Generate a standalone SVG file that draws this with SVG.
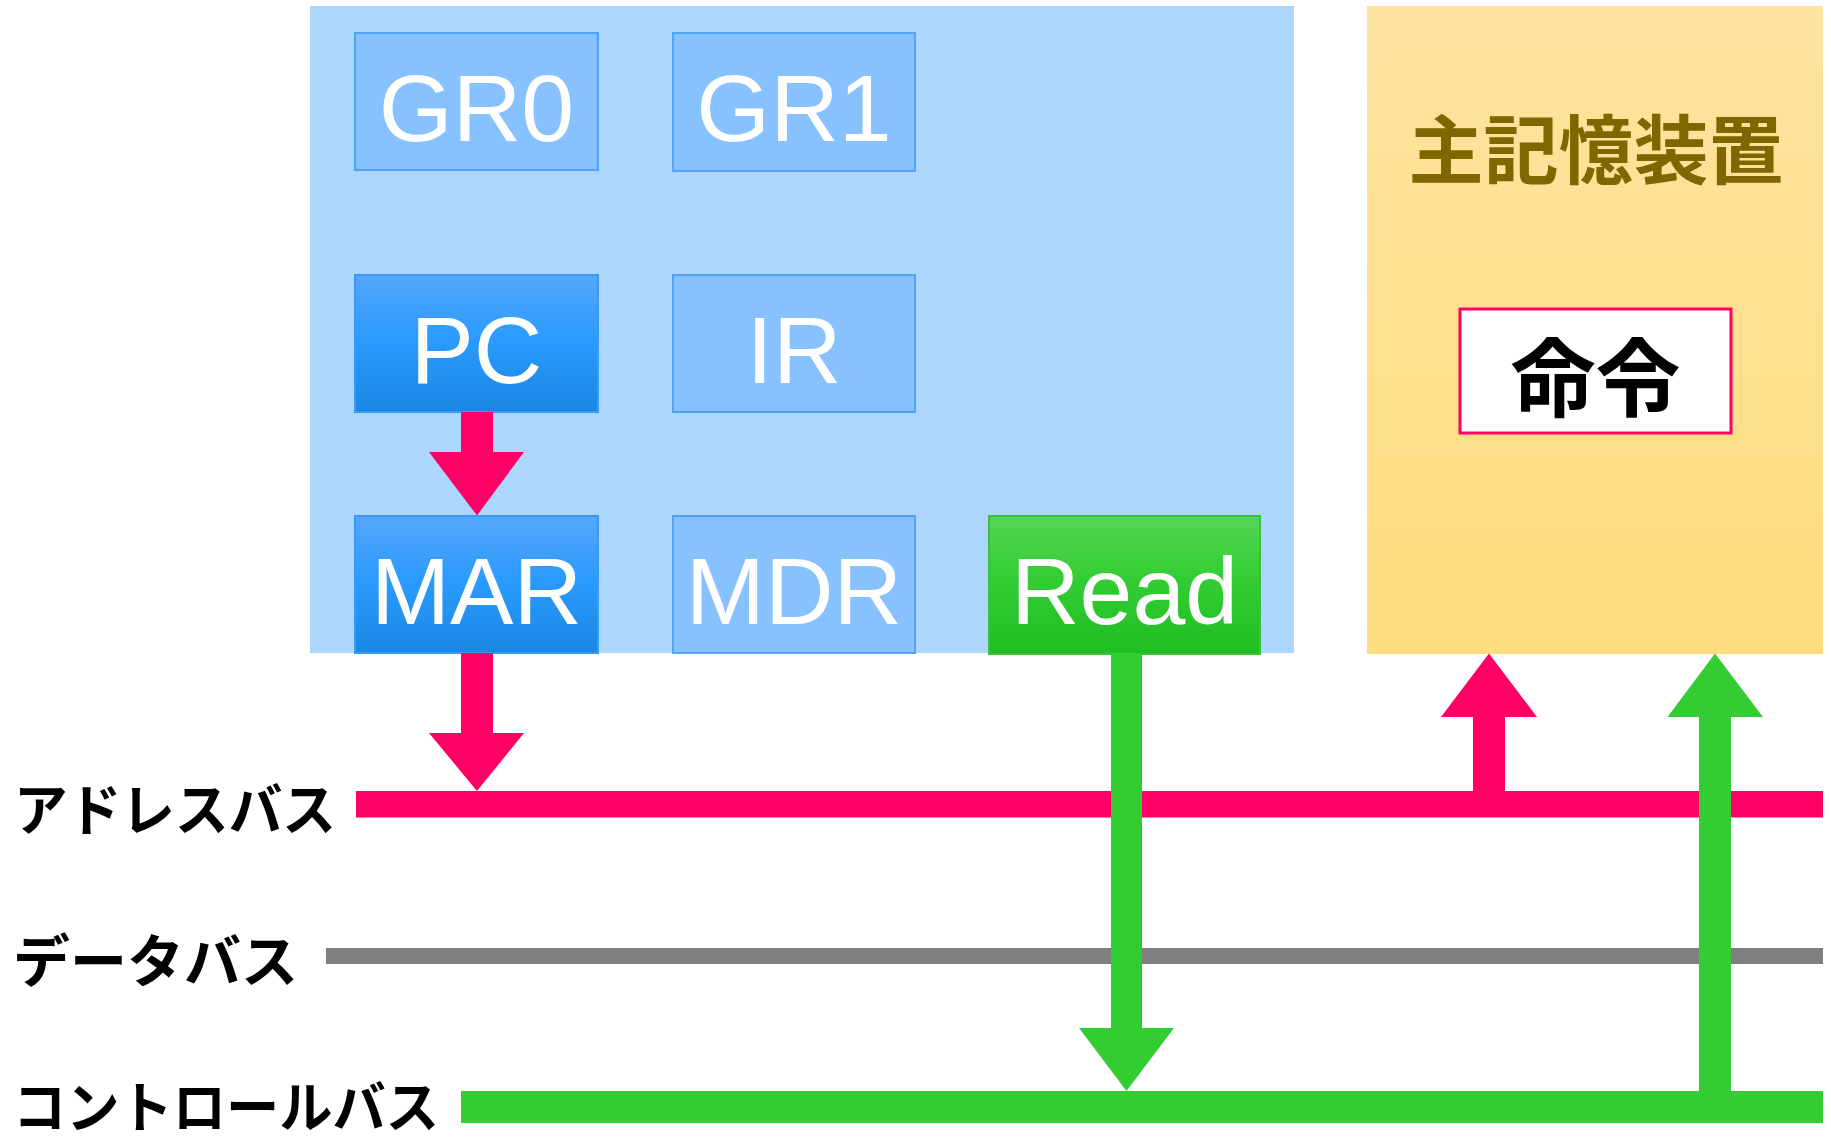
<svg xmlns="http://www.w3.org/2000/svg" width="1831" height="1140" viewBox="0 0 1831 1140">
<defs>
<linearGradient id="gBlue" x1="0" y1="0" x2="0" y2="1">
<stop offset="0" stop-color="#57a6fb"/>
<stop offset="0.45" stop-color="#2b9bff"/>
<stop offset="1" stop-color="#1b87e4"/>
</linearGradient>
<linearGradient id="gGreen" x1="0" y1="0" x2="0" y2="1">
<stop offset="0" stop-color="#55d657"/>
<stop offset="0.45" stop-color="#33cd33"/>
<stop offset="1" stop-color="#1fbe22"/>
</linearGradient>
<linearGradient id="gYellow" x1="0" y1="0" x2="0" y2="1">
<stop offset="0" stop-color="#fee3a0"/>
<stop offset="1" stop-color="#fedd7e"/>
</linearGradient>
</defs>
<style>
.reg{fill:#87c1ff;stroke:#4fa4f8;stroke-width:2}
.regA{fill:url(#gBlue);stroke:#3c98f0;stroke-width:2}
.rt{font-family:"Liberation Sans",Arial,sans-serif;font-size:95px;fill:#ffffff;text-anchor:middle}
.bl{font-family:"Noto Sans CJK JP",sans-serif;font-weight:700;fill:#000000}
.red{fill:#ff0066}
.grn{fill:#33cc33}
</style>
<rect width="1831" height="1140" fill="#ffffff"/>
<g id="cpu">
<rect x="310" y="6" width="984" height="647" fill="#add6fd"/>
</g>
<g id="memory">
<rect x="1367" y="6" width="456" height="648" fill="url(#gYellow)"/>
<text x="1596" y="178" font-family="Noto Sans CJK JP, sans-serif" font-weight="700" font-size="75" fill="#806500" text-anchor="middle">主記憶装置</text>
</g>
<g id="instr">
<rect x="1460" y="309" width="271" height="124" fill="#ffffff" stroke="#ff0066" stroke-width="3"/>
<text x="1595.5" y="410" font-family="Noto Sans CJK JP, sans-serif" font-weight="700" font-size="85" fill="#000000" text-anchor="middle">命令</text>
</g>
<g id="GR0"><rect class="reg" x="355" y="33" width="243" height="137"/><text class="rt" x="476.5" y="141">GR0</text></g>
<g id="GR1"><rect class="reg" x="673" y="33" width="242" height="138"/><text class="rt" x="794" y="141">GR1</text></g>
<g id="PC"><rect class="regA" x="355" y="275" width="243" height="137"/><text class="rt" x="476.5" y="383">PC</text></g>
<g id="IR"><rect class="reg" x="673" y="275" width="242" height="137"/><text class="rt" x="794" y="383">IR</text></g>
<g id="MAR"><rect class="regA" x="355" y="516" width="243" height="137"/><text class="rt" x="476.5" y="623.5">MAR</text></g>
<g id="MDR"><rect class="reg" x="673" y="516" width="242" height="137"/><text class="rt" x="794" y="623.5">MDR</text></g>
<g id="Read"><rect x="989" y="516" width="271" height="138" fill="url(#gGreen)" stroke="#3cbf3c" stroke-width="2"/><text class="rt" x="1124.5" y="623.5">Read</text></g>
<g id="labels">
<text class="bl" x="14" y="830" font-size="56" textLength="322" lengthAdjust="spacingAndGlyphs">アドレスバス</text>
<text class="bl" x="13" y="982" font-size="57" textLength="285" lengthAdjust="spacingAndGlyphs">データバス</text>
<text class="bl" x="13" y="1127" font-size="55" textLength="426" lengthAdjust="spacingAndGlyphs">コントロールバス</text>
</g>
<g id="connectors">
<rect id="addressBus" class="red" x="356" y="791" width="1467" height="26.5"/>
<rect id="dataBus" x="326" y="948" width="1497" height="16" fill="#808080"/>
<rect id="controlBus" class="grn" x="461" y="1091" width="1362" height="32"/>
<polygon class="red" points="461,412 493,412 493,452 524,452 477,515.5 429,452 461,452"/>
<polygon class="red" points="461,653 493,653 493,733 524,733 477,791 429,733 461,733"/>
<polygon class="grn" points="1111,653 1142,653 1142,1028 1174,1028 1126.5,1091 1079,1028 1111,1028"/>
<polygon class="red" points="1473,791 1473,717 1441,717 1489,653.6 1537,717 1505,717 1505,791"/>
<polygon class="grn" points="1699,1091 1699,717 1667.5,717 1715,653.6 1763,717 1731,717 1731,1091"/>
</g>
</svg>
